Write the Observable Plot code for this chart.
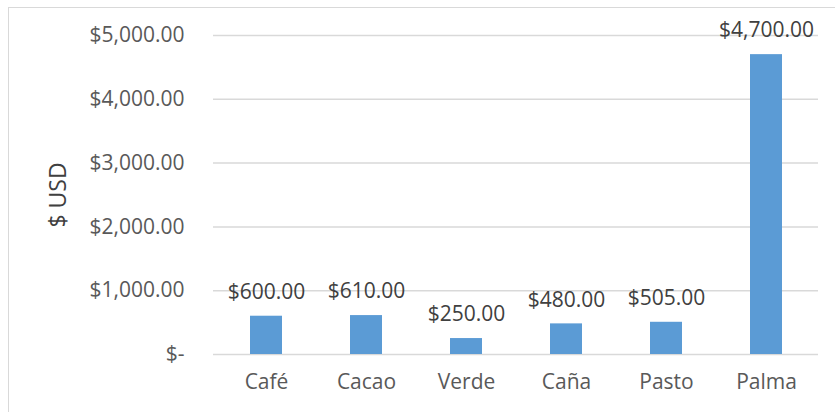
<!DOCTYPE html>
<html>
<head>
<meta charset="utf-8">
<script src="https://cdn.jsdelivr.net/npm/d3@7"></script>
<script src="https://cdn.jsdelivr.net/npm/@observablehq/plot@0.6"></script>
<style>
  html, body { margin: 0; padding: 0; background: #fff; overflow: hidden; }
  #wrap { position: relative; width: 835px; height: 412px; }
  #border { position: absolute; left: 8px; top: 7px; width: 840px; height: 420px;
            border: 1.5px solid #d9d9d9; box-sizing: border-box; pointer-events: none; }
  svg { position: absolute; left: 0; top: 0; }
</style>
</head>
<body>
<div id="wrap"><div id="border"></div></div>
<script>
const categories = ["Café", "Cacao", "Verde", "Caña", "Pasto", "Palma"];
const values = [600, 610, 250, 480, 505, 4700];
const yTicks = [0, 1000, 2000, 3000, 4000, 5000];
const yTitle = "$ USD";

const data = categories.map((c, i) => ({cat: c, val: values[i]}));
const money = d3.format(",.2f");
const fmt = v => v === 0 ? "$-" : "$" + money(v);

const font = "Open Sans, Noto Sans, sans-serif";
const chart = Plot.plot({
  width: 835,
  height: 412,
  marginLeft: 213,
  marginRight: 17,
  marginTop: 35,
  marginBottom: 58,
  style: {fontFamily: font, fontSize: "21px", color: "#595959", background: "transparent"},
  x: {domain: categories, paddingInner: 0.68, paddingOuter: 0.34, label: null, tickSize: 0, tickPadding: 20},
  y: {domain: [0, 5000], ticks: yTicks, tickFormat: fmt, tickSize: 0, tickPadding: 29, label: null},
  marks: [
    Plot.ruleY(yTicks, {stroke: "#d9d9d9", strokeWidth: 1.5}),
    Plot.barY(data, {x: "cat", y: "val", fill: "#5b9bd5"}),
    Plot.text(data, {x: "cat", y: "val", text: d => fmt(d.val), dy: -24, fill: "#404040", fontSize: 21}),
    Plot.text([yTitle], {text: d => d, frameAnchor: "left", textAnchor: "middle", rotate: -90, dx: -155, fontSize: 23, fill: "#404040"})
  ]
});
document.getElementById("wrap").appendChild(chart);
</script>
</body>
</html>
